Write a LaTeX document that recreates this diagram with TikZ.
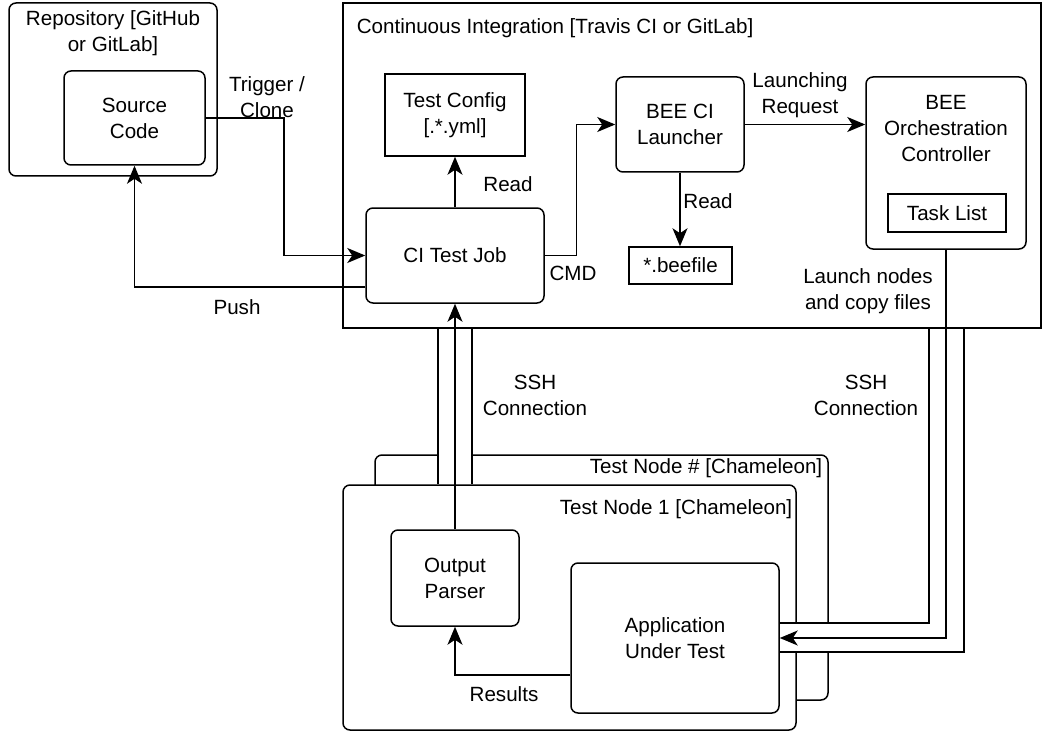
\documentclass[tikz,border=0pt]{standalone}
\usepackage{fontspec}
\setmainfont{Liberation Sans}
\usetikzlibrary{arrows.meta,calc}
\begin{document}
\begin{tikzpicture}[x=1pt,y=-1pt,
  font=\fontsize{20.6}{26}\selectfont,
  line width=1.5pt,
  rbox/.style={draw, fill=white, rounded corners=7pt, inner sep=0pt, align=center},
  sbox/.style={draw, fill=white, inner sep=0pt, align=center},
  lbl/.style={inner sep=0pt, align=center},
  arr/.style={-{Stealth[length=18pt,width=15pt,inset=5pt]}, line width=1.5pt},
  wall/.style={line width=1.2pt}
]
\useasboundingbox (0,0) rectangle (1042,733);

% Repository
\node[rbox, minimum width=208pt, minimum height=173pt] (repo) at (113,89.5) {};
\node[lbl] (repolbl) at (113,33) {Repository [GitHub\\or GitLab]};
\node[rbox, minimum width=141pt, minimum height=94pt] (src) at (134.5,118) {Source\\Code};

% Continuous Integration
\node[sbox, minimum width=698pt, minimum height=325pt] (ci) at (692,165.5) {};
\node[lbl, anchor=west] (cilbl) at (356,28) {Continuous Integration [Travis CI or GitLab]};
\node[sbox, minimum width=140pt, minimum height=82pt] (cfg) at (455,115) {Test Config\\{[}.*.yml{]}};
\node[rbox, minimum width=178pt, minimum height=95pt] (job) at (455,255.5) {CI Test Job};
\node[rbox, minimum width=128pt, minimum height=95pt] (launcher) at (680,124.5) {BEE CI\\Launcher};
\node[sbox, minimum width=103pt, minimum height=37pt] (beefile) at (680.5,265.5) {*.beefile};
\node[rbox, minimum width=160pt, minimum height=172pt] (orch) at (946,163) {};
\node[lbl] (orchlbl) at (946,129) {BEE\\Orchestration\\Controller};
\node[sbox, minimum width=118pt, minimum height=38pt] (task) at (947,213) {Task List};

% Test nodes
\node[rbox, minimum width=453pt, minimum height=245pt] (tnn) at (601.5,577.5) {};
\node[lbl, anchor=east] (tnnlbl) at (823,468) {Test Node \# [Chameleon]};
\node[rbox, minimum width=453pt, minimum height=245pt] (tn1) at (569.5,607.5) {};
\node[lbl, anchor=east] (tn1lbl) at (793,509) {Test Node 1 [Chameleon]};
\node[rbox, minimum width=128pt, minimum height=96pt] (parser) at (455,578) {Output\\Parser};
\node[rbox, minimum width=208pt, minimum height=150pt] (app) at (675,638) {Application\\Under Test};

% SSH pipes
\fill[white] (438,329) rectangle (472,484);
\draw[wall] (438,329) -- (438,484);
\draw[wall] (472,329) -- (472,484);
\fill[white] (929,329) -- (964,329) -- (964,652) -- (780,652) -- (780,623) -- (929,623) -- cycle;
\draw[wall] (929,329) -- (929,623) -- (780,623);
\draw[wall] (964,329) -- (964,652) -- (780,652);

% Connectors
\draw[arr] (src.east) -- ++(78,0) |- (job.west);
\draw[arr] ([yshift=-31.5pt]job.west) -| (src.south);
\draw[arr] (job.north) -- (cfg.south);
\draw[arr] (job.east) -- ++(31.5,0) |- (launcher.west);
\draw[arr] (launcher.south) -- (launcher.south |- beefile.north);
\draw[arr] (launcher.east) -- (launcher.east -| orch.west);
\draw[arr] (parser.north) -- (job.south);
\draw[arr] (orch.south) |- (app.east);
\draw[arr] ([yshift=-37pt]app.west) -| (parser.south);

% Edge labels
\node[lbl] (trig) at (267,97) {Trigger /\\Clone};
\node[lbl] (push) at (237,307) {Push};
\node[lbl] (read1) at (508,184) {Read};
\node[lbl] (cmd) at (573,273) {CMD};
\node[lbl] (read2) at (708,201) {Read};
\node[lbl] (lreq) at (800,95) {Launching\\Request};
\node[lbl] (lnodes) at (868,291) {Launch nodes\\and copy files};
\node[lbl] (ssh1) at (535,395) {SSH\\Connection};
\node[lbl] (ssh2) at (866,395) {SSH\\Connection};
\node[lbl] (res) at (504,694) {Results};
\end{tikzpicture}
\end{document}
